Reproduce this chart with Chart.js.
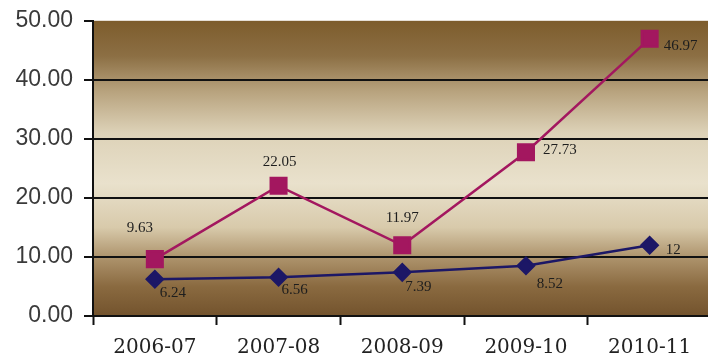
<!DOCTYPE html>
<html>
<head>
<meta charset="utf-8">
<script src="https://cdn.jsdelivr.net/npm/chart.js@4.4.1/dist/chart.umd.min.js"></script>
<style>
    html, body { margin: 0; padding: 0; background: #fff; overflow: hidden; }
    #wrap { width: 725px; height: 363px; margin-top: -4px; }
</style>
</head>
<body>
<div id="wrap"><canvas id="myChart"></canvas></div>
<script>
// data
const years = ['2006-07', '2007-08', '2008-09', '2009-10', '2010-11'];
const upperSeries = [9.63, 22.05, 11.97, 27.73, 46.97];
const lowerSeries = [6.24, 6.56, 7.39, 8.52, 12];
const upperLabels = ['9.63', '22.05', '11.97', '27.73', '46.97'];
const lowerLabels = ['6.24', '6.56', '7.39', '8.52', '12'];

// where each value label sits relative to its point: [dx, dy, align]
const upperLabelOffsets = [[-15, -31, 'center'], [1, -24, 'center'], [0, -27, 'center'], [17, -2, 'left'], [14, 7, 'left']];
const lowerLabelOffsets = [[18, 14, 'center'], [16, 13, 'center'], [16, 15, 'center'], [24, 18, 'center'], [16, 5, 'left']];

// brown / cream band behind the plot
const plotBackground = {
    id: 'plotBackground',
    beforeDraw(chart) {
        const { ctx, chartArea: a } = chart;
        const g = ctx.createLinearGradient(0, a.top, 0, a.bottom);
        g.addColorStop(0.00, '#7d5c2c');
        g.addColorStop(0.12, '#8c6f44');
        g.addColorStop(0.24, '#b8a37e');
        g.addColorStop(0.38, '#ddd2b8');
        g.addColorStop(0.55, '#e9e1cc');
        g.addColorStop(0.70, '#d8caab');
        g.addColorStop(0.80, '#ae946d');
        g.addColorStop(0.90, '#8a6a40');
        g.addColorStop(1.00, '#73532d');
        ctx.save();
        ctx.fillStyle = g;
        ctx.fillRect(a.left, a.top, a.right - a.left, a.bottom - a.top);
        ctx.restore();
    }
};

// value labels next to the markers
const valueLabels = {
    id: 'valueLabels',
    afterDatasetsDraw(chart) {
        const { ctx } = chart;
        const sets = [[upperLabels, upperLabelOffsets], [lowerLabels, lowerLabelOffsets]];
        ctx.save();
        ctx.font = '15px "Liberation Serif", serif';
        ctx.fillStyle = '#1e1e1e';
        ctx.textBaseline = 'middle';
        sets.forEach(([labels, offsets], i) => {
            chart.getDatasetMeta(i).data.forEach((pt, j) => {
                const [dx, dy, align] = offsets[j];
                ctx.textAlign = align;
                ctx.fillText(labels[j], pt.x + dx, pt.y + dy);
            });
        });
        ctx.restore();
    }
};

const data = {
    labels: years,
    datasets: [{
        data: upperSeries,
        borderColor: '#a3175f',
        backgroundColor: '#a3175f',
        borderWidth: 2.5,
        pointStyle: 'rect',
        pointRadius: 11,
        pointHoverRadius: 11,
        tension: 0
    }, {
        data: lowerSeries,
        borderColor: '#1c1766',
        backgroundColor: '#1c1766',
        borderWidth: 2.5,
        pointStyle: 'rectRot',
        pointRadius: 8,
        pointHoverRadius: 8,
        tension: 0
    }]
};

const config = {
    type: 'line',
    data,
    plugins: [plotBackground, valueLabels],
    options: {
        responsive: true,
        maintainAspectRatio: false,
        animation: false,
        layout: { padding: { top: 4, right: 0, left: 0, bottom: 0 } },
        plugins: {
            legend: { display: false },
            tooltip: { enabled: false }
        },
        scales: {
            x: {
                offset: true,
                grid: {
                    offset: true,
                    drawOnChartArea: false,
                    tickColor: '#111',
                    tickLength: 9,
                    tickWidth: 2
                },
                border: { color: '#111', width: 2 },
                ticks: {
                    color: '#222',
                    font: { family: '"DejaVu Serif", serif', size: 20 },
                    padding: 11
                },
                afterFit(s) { s.height = 43; }
            },
            y: {
                min: 0,
                max: 50,
                ticks: {
                    stepSize: 10,
                    color: '#3a3a3a',
                    font: { family: '"Liberation Sans", Arial, sans-serif', size: 23 },
                    padding: 11,
                    callback: v => v.toFixed(2)
                },
                grid: {
                    color: c => (c.tick && c.tick.value === 50) ? 'rgba(0,0,0,0)' : '#111',
                    lineWidth: 2,
                    tickColor: '#111',
                    tickLength: 9
                },
                border: { color: '#111', width: 2 },
                afterFit(s) { s.width = 93; }
            }
        }
    }
};

const myChart = new Chart(document.getElementById('myChart'), config);
</script>
</body>
</html>
